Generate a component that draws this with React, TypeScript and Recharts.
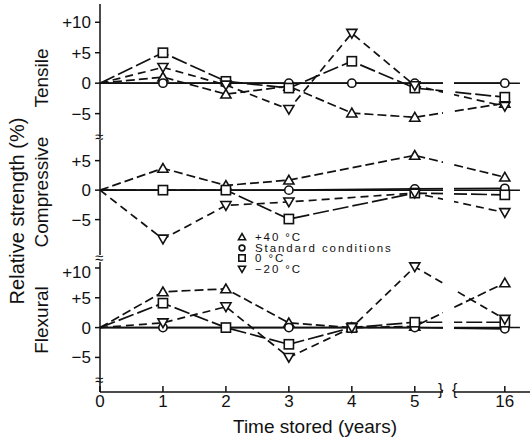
import { LineChart, Line, XAxis, YAxis, ReferenceLine } from 'recharts';

// storage time (years); the axis is broken between 5 and 16
const years = [0, 1, 2, 3, 4, 5, 16];

// tensile strength change (%)
const tensile40 = [0, 1, -1.8, -0.5, -4.9, -5.6, -3.3];
const tensileStd = [0, 0, 0, 0, 0, 0, 0];
const tensile0 = [0, 5, 0.3, -0.8, 3.6, -0.8, -2.3];
const tensileM20 = [0, 2.6, -0.3, -4.3, 8.2, -0.4, -3.8];

// compressive strength change (%), not measured at year 4
const compressive40 = [0, 3.7, 0.8, 1.7, null, 5.9, 2.2];
const compressiveStd = [0, 0, 0, 0, null, 0.2, 0.3];
const compressive0 = [0, 0, 0, -4.9, null, -0.5, -0.8];
const compressiveM20 = [0, -8.3, -2.6, -2.0, null, -0.5, -3.8];

// flexural strength change (%)
const flexural40 = [0, 6, 6.5, 0.8, 0, 0.2, 7.5];
const flexuralStd = [0, 0, 0, 0, 0, 0, -0.2];
const flexural0 = [0, 4.1, 0, -2.8, 0, 0.9, 0.9];
const flexuralM20 = [0, 0.8, 3.5, -5, 0, 10.2, 1.4];

const tensileTicks = [-5, 0, 5, 10];
const compressiveTicks = [-10, -5, 0, 5];
const flexuralTicks = [-5, 0, 5, 10];

const seriesNames = ['+40 °C', 'Standard conditions', '0 °C', '−20 °C'];

const FONT = '"Liberation Sans", Arial, sans-serif';
const INK = '#111';
const BREAK_AT = 5;
const AFTER_BREAK = 0.13; // compression of the axis after the break
const X_MAX = 6.83;
const ZERO_END = 6.67;

const axisPos = (yr: number) => (yr <= BREAK_AT ? yr : BREAK_AT + (yr - BREAK_AT) * AFTER_BREAK);

const series = [
  { key: 's40', name: seriesNames[0], shape: 'up', dash: '9 4' },
  { key: 'std', name: seriesNames[1], shape: 'circle', dash: undefined },
  { key: 's0', name: seriesNames[2], shape: 'square', dash: '16 4' },
  { key: 'm20', name: seriesNames[3], shape: 'down', dash: '8 5' },
];

const buildRows = (a: (number | null)[], b: (number | null)[], c: (number | null)[], d: (number | null)[]) =>
  years.map((yr, i) => ({ x: axisPos(yr), s40: a[i], std: b[i], s0: c[i], m20: d[i] }));

const tensileRows = buildRows(tensile40, tensileStd, tensile0, tensileM20);
const compressiveRows = buildRows(compressive40, compressiveStd, compressive0, compressiveM20);
const flexuralRows = buildRows(flexural40, flexuralStd, flexural0, flexuralM20);

function Symbol({ shape, cx, cy, s }: { shape: string; cx: number; cy: number; s: number }) {
  const common = { fill: '#fff', stroke: INK, strokeWidth: 1.6 };
  if (shape === 'circle') return <circle cx={cx} cy={cy} r={s * 0.9} {...common} />;
  if (shape === 'square') return <rect x={cx - s} y={cy - s} width={s * 2} height={s * 2} {...common} />;
  if (shape === 'up')
    return <polygon points={`${cx},${cy - s * 1.05} ${cx - s * 1.1},${cy + s * 0.85} ${cx + s * 1.1},${cy + s * 0.85}`} {...common} />;
  return <polygon points={`${cx},${cy + s * 1.05} ${cx - s * 1.1},${cy - s * 0.85} ${cx + s * 1.1},${cy - s * 0.85}`} {...common} />;
}

const makeDot = (shape: string) => (props: any) => {
  const { cx, cy, index, value } = props;
  if (index === 0 || value == null || cx == null || cy == null) return <g key={`d${index}`} />;
  return (
    <g key={`d${index}`}>
      <Symbol shape={shape} cx={cx} cy={cy} s={4.6} />
    </g>
  );
};

const fmtY = (v: number) => (v > 0 ? `+${v}` : v < 0 ? `−${-v}` : '0');
const fmtX = (v: number) => String(years.find((yr) => Math.abs(axisPos(yr) - v) < 1e-6) ?? '');

const tickStyle = { fill: INK, fontSize: 17, fontFamily: FONT };

function Panel({ top, height, data, domain, ticks, showX }: any) {
  return (
    <div style={{ position: 'absolute', left: 0, top }}>
      <LineChart width={532} height={height} data={data} margin={{ top: 0, right: 2, bottom: 0, left: 0 }}>
        <XAxis
          type="number"
          dataKey="x"
          domain={[0, X_MAX]}
          ticks={years.map(axisPos)}
          tickFormatter={fmtX}
          hide={!showX}
          height={48}
          stroke={INK}
          strokeWidth={1.5}
          tickSize={-6}
          tickMargin={9}
          tick={tickStyle}
          label={{ value: 'Time stored (years)', position: 'insideBottom', offset: 7, fill: INK, fontSize: 19, fontFamily: FONT }}
        />
        <YAxis
          type="number"
          domain={domain}
          ticks={ticks}
          allowDataOverflow
          width={100}
          stroke={INK}
          strokeWidth={1.5}
          tickSize={5}
          tickMargin={4}
          tick={tickStyle}
          tickFormatter={fmtY}
        />
        <ReferenceLine segment={[{ x: 0, y: 0 }, { x: ZERO_END, y: 0 }]} stroke={INK} strokeWidth={1.5} />
        {series.map((s) => (
          <Line
            key={s.key}
            dataKey={s.key}
            name={s.name}
            type="linear"
            stroke={INK}
            strokeWidth={1.7}
            strokeDasharray={s.dash}
            connectNulls
            dot={makeDot(s.shape)}
            activeDot={false}
            isAnimationActive={false}
          />
        ))}
      </LineChart>
    </div>
  );
}

const vLabel = (text: string, cx: number, cy: number, size: number) => (
  <div
    style={{
      position: 'absolute',
      left: cx - 150,
      top: cy - 12,
      width: 300,
      height: 24,
      lineHeight: '24px',
      textAlign: 'center',
      fontSize: size,
      transform: 'rotate(-90deg)',
      zIndex: 3,
    }}
  >
    {text}
  </div>
);

const mark = (text: string, left: number, top: number, size: number) => (
  <div style={{ position: 'absolute', left, top, fontSize: size, lineHeight: 1, zIndex: 4, color: INK }}>{text}</div>
);

export default function App() {
  return (
    <div
      style={{
        position: 'fixed',
        left: 0,
        top: 0,
        width: 532,
        height: 440,
        background: '#fff',
        fontFamily: FONT,
        color: INK,
        overflow: 'hidden',
      }}
    >
      <Panel top={4} height={134} data={tensileRows} domain={[-9, 13]} ticks={tensileTicks} showX={false} />
      <Panel top={140} height={115} data={compressiveRows} domain={[-11, 8.5]} ticks={compressiveTicks} showX={false} />
      <Panel top={262} height={178} data={flexuralRows} domain={[-10.8, 11]} ticks={flexuralTicks} showX />

      {/* axis break gap */}
      <div style={{ position: 'absolute', left: 443, top: 0, width: 11, height: 396, background: '#fff', zIndex: 2 }} />
      {mark('}', 438, 382, 16)}
      {mark('{', 452, 382, 16)}
      {mark('≈', 95, 129, 15)}
      {mark('≈', 95, 250, 15)}
      {mark('≈', 95, 372, 15)}

      {vLabel('Relative strength (%)', 17, 211, 20)}
      {vLabel('Tensile', 42, 78, 19)}
      {vLabel('Compressive', 42, 192, 19)}
      {vLabel('Flexural', 42, 320, 19)}

      <div style={{ position: 'absolute', left: 236, top: 232, zIndex: 3 }}>
        {series.map((s) => (
          <div key={s.key} style={{ display: 'flex', alignItems: 'center', height: 10.5, fontSize: 11.5, lineHeight: '10.5px', letterSpacing: 1.9 }}>
            <svg width={12} height={10} style={{ marginRight: 7 }}>
              <Symbol shape={s.shape} cx={6} cy={5} s={3.2} />
            </svg>
            <span style={{ whiteSpace: 'nowrap' }}>{s.name}</span>
          </div>
        ))}
      </div>
    </div>
  );
}
